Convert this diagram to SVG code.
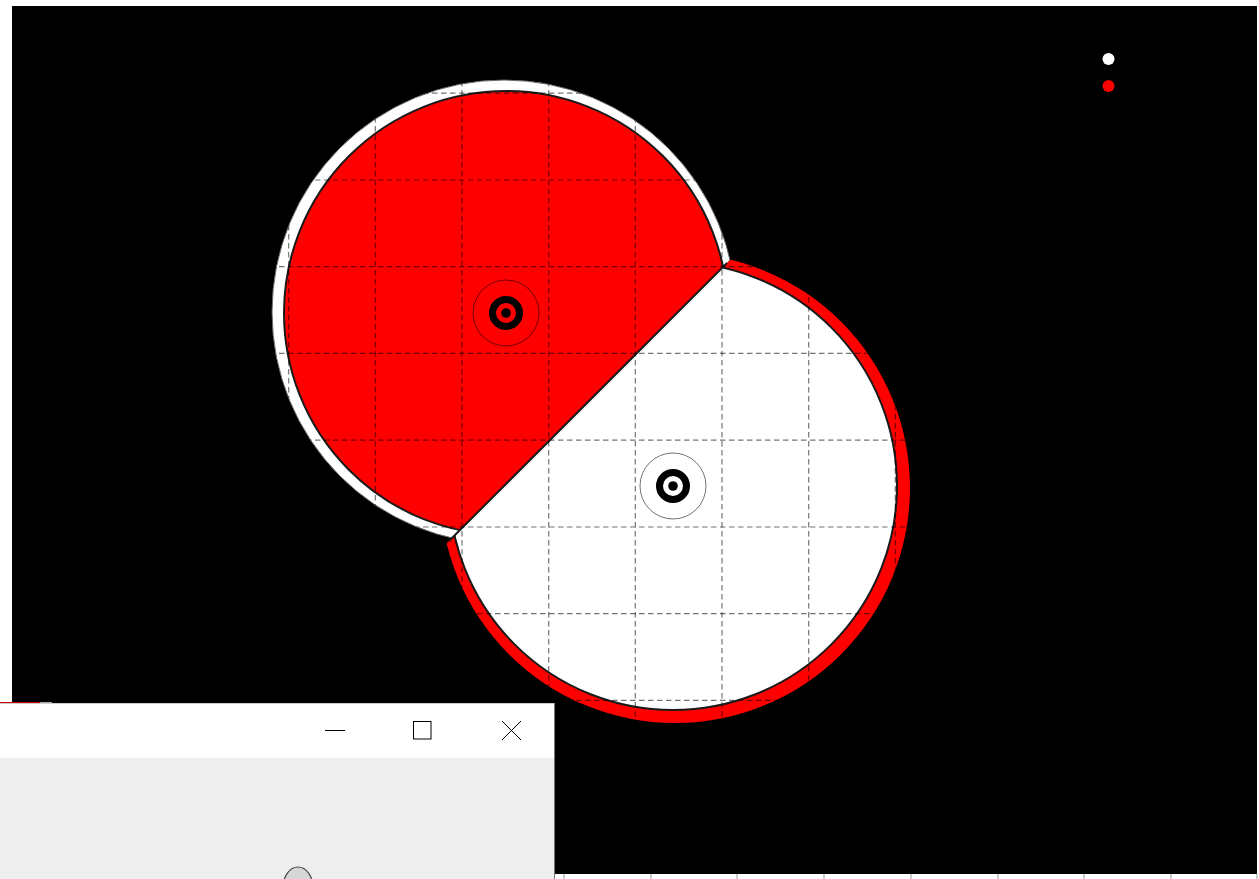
<svg xmlns="http://www.w3.org/2000/svg" width="1259" height="879" viewBox="0 0 1259 879">
<style>
.grid{stroke:#000;stroke-opacity:0.55;stroke-width:1.2;stroke-dasharray:5.5 3.5;fill:none}
.outline{stroke:#1a1a1a;stroke-width:2}
.thin{fill:none;stroke:#000;stroke-opacity:0.55;stroke-width:1}
.btn{stroke:#000;stroke-width:1;fill:none}
.tick{stroke:#999;stroke-width:1}
</style>
<defs>
<clipPath id="redSide"><polygon points="-10,-10 1000,-10 -10,1000"/></clipPath>
<clipPath id="whiteSide"><polygon points="1000,-10 1300,-10 1300,900 90,900"/></clipPath>
<clipPath id="discs"><circle cx="504" cy="312" r="232"/><circle cx="675" cy="488" r="235"/></clipPath>
</defs>
<rect x="0" y="0" width="1259" height="879" fill="#fff"/>
<rect x="12" y="6" width="1245" height="868" fill="#000"/>
<g id="node-red" clip-path="url(#redSide)">
<circle cx="504" cy="312" r="232" fill="#fff" stroke="#666" stroke-width="1"/>
<circle cx="506" cy="313" r="222" fill="#f00" class="outline"/>
</g>
<g id="node-white" clip-path="url(#whiteSide)">
<circle cx="675" cy="488" r="235" fill="#f00"/>
<circle cx="673" cy="486" r="224" fill="#fff" class="outline"/>
</g>
<line x1="727" y1="263" x2="449" y2="541" stroke="#1a1a1a" stroke-width="2"/>
<g id="grid" clip-path="url(#discs)">
<path class="grid" d="M288.7,0V879M375.3,0V879M462,0V879M548.7,0V879M635.3,0V879M722,0V879M808.7,0V879M895.3,0V879"/>
<path class="grid" d="M0,93.2H1259M0,180H1259M0,266.7H1259M0,353.4H1259M0,440.2H1259M0,527H1259M0,613.7H1259M0,700.4H1259"/>
</g>
<g id="marker-red">
<circle cx="506" cy="313" r="33" class="thin"/>
<circle cx="506" cy="313" r="13.5" fill="none" stroke="#000" stroke-width="7"/>
<circle cx="506" cy="313" r="4.8" fill="#000"/>
</g>
<g id="marker-white">
<circle cx="673" cy="486" r="33" class="thin"/>
<circle cx="673" cy="486" r="13.5" fill="none" stroke="#000" stroke-width="7"/>
<circle cx="673" cy="486" r="4.8" fill="#000"/>
</g>
<g id="legend">
<circle cx="1108.5" cy="59" r="6" fill="#fff"/>
<circle cx="1108.5" cy="86" r="6" fill="#f00"/>
</g>
<g id="ticks">
<path class="tick" d="M564,874V879M651,874V879M737,874V879M824,874V879M911,874V879M998,874V879M1084,874V879M1171,874V879M1257,874V879"/>
</g>
<g id="window">
<line x1="0" y1="702.5" x2="40" y2="702.5" stroke="#c00" stroke-width="1"/>
<line x1="40" y1="702.5" x2="52" y2="702.5" stroke="#aaa" stroke-width="1"/>
<rect x="0" y="703" width="554" height="176" fill="#fff"/>
<rect x="0" y="758" width="554" height="121" fill="#eeeeee"/>
<line x1="0" y1="703.5" x2="554" y2="703.5" stroke="#ccc" stroke-width="1"/>
<line x1="554.5" y1="703" x2="554.5" y2="879" stroke="#777" stroke-width="1"/>
<line x1="325" y1="730.5" x2="345" y2="730.5" class="btn"/>
<rect x="413.5" y="721.5" width="17.5" height="17.5" class="btn"/>
<path d="M502,721L521,740M521,721L502,740" class="btn"/>
<ellipse cx="298" cy="888" rx="15" ry="21" fill="#d6d6d6" stroke="#444" stroke-width="1.2"/>
</g>
</svg>
